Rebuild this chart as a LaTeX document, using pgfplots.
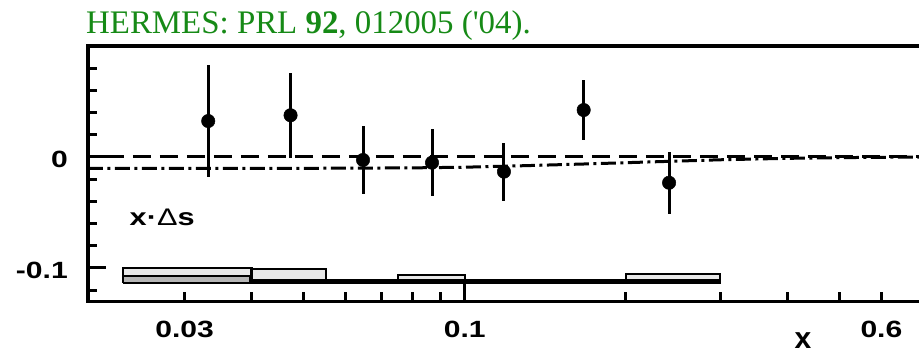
\documentclass[border=0pt]{standalone}
\usepackage{pgfplots}
\pgfplotsset{compat=1.18}
\usepackage{fontspec}
\setmainfont{Liberation Serif}
\newfontfamily\lbl[FakeStretch=1.28]{Liberation Sans}
\newfontfamily\lblplain{Liberation Sans}
\definecolor{titlegreen}{RGB}{22,138,22}
\definecolor{boxlight}{RGB}{232,232,232}
\definecolor{boxdark}{RGB}{182,182,182}

% measured points with statistical errors
\pgfplotstableread{
x       y        e
0.0332  0.0324   0.0505
0.0473  0.0376   0.0382
0.0646  -0.0027  0.0310
0.0869  -0.0051  0.0300
0.1184  -0.0132  0.0262
0.1668  0.0423   0.0270
0.2408  -0.0232  0.0278
}\datapts

% parametrisation curve
\pgfplotstableread{
x       y
0.0198  -0.0102
0.05    -0.0102
0.08    -0.0098
0.1     -0.0092
0.13    -0.0078
0.17    -0.0062
0.22    -0.0045
0.3     -0.0025
0.4     -0.0012
0.55    -0.0004
0.72    0.0
}\curve

\begin{document}
\begin{tikzpicture}
\begin{axis}[
  name=ax,
  scale only axis,
  width=835.8bp, height=255.3bp,
  xmode=log, xmin=0.0198, xmax=0.72,
  ymin=-0.13, ymax=0.1,
  axis line style={line width=3.3bp},
  tick style={line width=3bp, black},
  major tick length=18bp, minor tick length=9.5bp,
  tick pos=left, tick align=inside,
  xtick={0.1}, xticklabels={0.1},
  extra x ticks={0.03,0.6}, extra x tick labels={0.03,0.6},
  extra x tick style={major tick length=9.5bp},
  minor xtick={0.03,0.04,0.05,0.06,0.07,0.08,0.09,0.2,0.3,0.4,0.5,0.6},
  ytick={-0.1,0}, yticklabels={-0.1,0},
  minor ytick={-0.12,-0.08,-0.06,-0.04,-0.02,0.02,0.04,0.06,0.08},
  ticklabel style={font=\lbl\bfseries\fontsize{23.5bp}{23.5bp}\selectfont},
  xticklabel style={anchor=north, inner sep=0pt, yshift=-20bp},
  yticklabel style={anchor=east, inner sep=0pt, xshift=-20bp, yshift=-2bp},
]
% systematic error bands
\addplot[fill=boxlight, draw=black, line width=2.2bp] coordinates
  {(0.023,-0.1135) (0.023,-0.1003) (0.04,-0.1003) (0.04,-0.1135) (0.023,-0.1135)};
\addplot[fill=boxdark, draw=black, line width=2bp] coordinates
  {(0.023,-0.1135) (0.023,-0.107) (0.0397,-0.107) (0.0397,-0.1135) (0.023,-0.1135)};
\addplot[fill=boxlight, draw=black, line width=2.2bp] coordinates
  {(0.04,-0.1135) (0.04,-0.1012) (0.055,-0.1012) (0.055,-0.1135) (0.04,-0.1135)};
\addplot[fill=boxlight, draw=black, line width=2.2bp] coordinates
  {(0.075,-0.1135) (0.075,-0.1063) (0.1,-0.1063) (0.1,-0.1135) (0.075,-0.1135)};
\addplot[fill=boxlight, draw=black, line width=2.2bp] coordinates
  {(0.2,-0.1135) (0.2,-0.1057) (0.3,-0.1057) (0.3,-0.1135) (0.2,-0.1135)};
\addplot[black, line width=5bp] coordinates {(0.04,-0.1122) (0.3,-0.1122)};

% zero line and curve
\addplot[black, line width=3bp, dash pattern=on 18bp off 9bp, dash phase=9bp]
  coordinates {(0.0198,0) (0.72,0)};
\addplot[black, line width=3bp, dash pattern=on 15bp off 4.5bp on 3bp off 4.5bp]
  table[x=x, y=y] {\curve};

% data
\addplot[black, only marks, mark=*, mark size=6.7bp, mark options={line width=0.5bp},
  error bars/.cd, y dir=both, y explicit, error mark=none,
  error bar style={line width=3bp}]
  table[x=x, y=y, y error=e] {\datapts};

\node[anchor=base west, inner sep=0pt, font=\lbl\bfseries\fontsize{24bp}{24bp}\selectfont]
  at (axis cs:0.02367,-0.0613) {x·{\mdseries Δ}s};
\end{axis}
\node[anchor=base, inner sep=0pt, font=\lblplain\bfseries\fontsize{30bp}{30bp}\selectfont]
  at ([shift={(715bp,-47.2bp)}]ax.south west) {x};
\node[anchor=base west, inner sep=0pt, text=titlegreen, font=\fontsize{32.9bp}{36bp}\selectfont]
  at ([shift={(-2bp,268bp)}]ax.south west) {HERMES: PRL \textbf{92}, 012005 (\textquotesingle 04).};
\pgfresetboundingbox
\path ([shift={(-88bp,-52.7bp)}]ax.south west) rectangle ([shift={(831bp,301.3bp)}]ax.south west);
\end{tikzpicture}
\end{document}
